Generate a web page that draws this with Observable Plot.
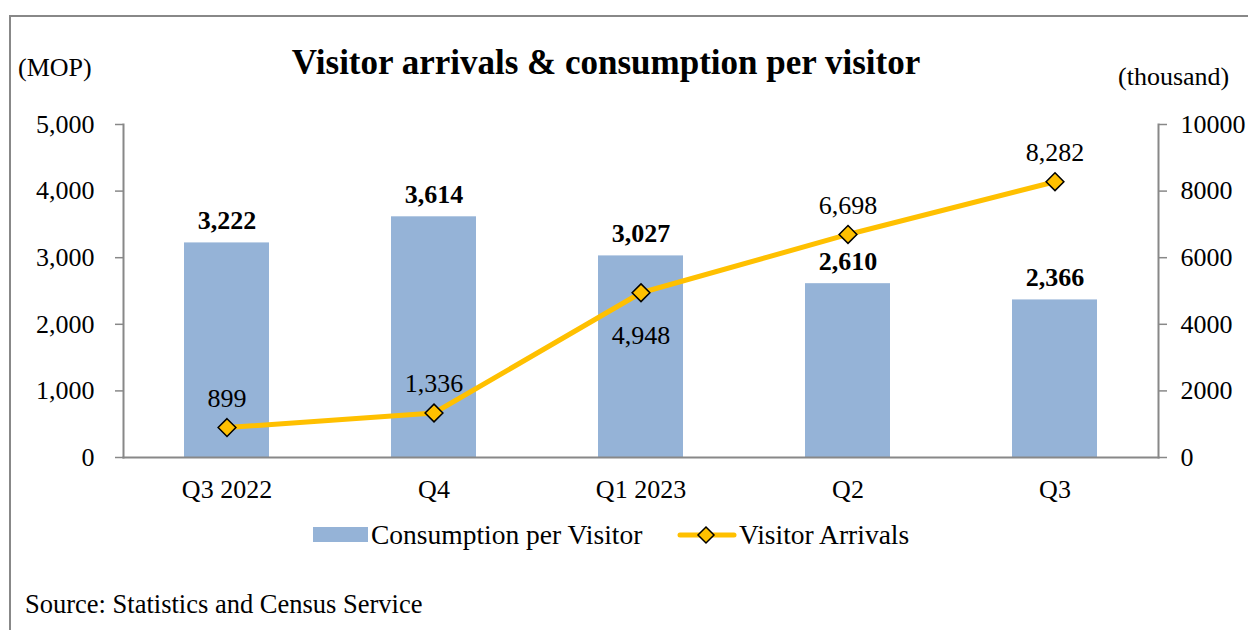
<!DOCTYPE html>
<html>
<head>
<meta charset="utf-8">
<script src="https://cdn.jsdelivr.net/npm/d3@7"></script>
<script src="https://cdn.jsdelivr.net/npm/@observablehq/plot@0.6"></script>
<style>
  html, body { margin: 0; padding: 0; background: #fff; overflow: hidden; }
  #wrap { position: relative; width: 1248px; height: 630px; font-family: "Liberation Serif", "Times New Roman", serif; color: #000; }
  #border { position: absolute; left: 9px; top: 15px; width: 1300px; height: 700px; border-left: 2px solid #888; border-top: 2px solid #888; }
  #chart { position: absolute; left: 0; top: 0; }
  .abs { position: absolute; white-space: nowrap; line-height: 1; }
</style>
</head>
<body>
<div id="wrap">
  <div id="border"></div>
  <div id="chart"></div>
  <div class="abs" style="left:0;width:1212px;top:45px;text-align:center;font-size:35px;font-weight:bold;">Visitor arrivals &amp; consumption per visitor</div>
  <div class="abs" style="left:18px;top:55px;font-size:26px;">(MOP)</div>
  <div class="abs" style="left:1118px;top:64px;font-size:26px;">(thousand)</div>
  <div class="abs" style="left:313px;top:521px;font-size:27.5px;display:flex;align-items:center;">
    <span style="display:inline-block;width:55px;height:15px;background:#95B3D7;margin-right:3px;"></span>
    <span>Consumption per Visitor</span>
  </div>
  <div class="abs" style="left:676px;top:521px;font-size:27.5px;display:flex;align-items:center;">
    <svg width="61" height="24" style="margin-right:2px;">
      <line x1="4" y1="12" x2="58" y2="12" stroke="#FFC000" stroke-width="5" stroke-linecap="round"/>
      <path d="M30,4 L38,12 L30,20 L22,12 Z" fill="#FFC000" stroke="#000" stroke-width="1.5"/>
    </svg>
    <span>Visitor Arrivals</span>
  </div>
  <div class="abs" style="left:25px;top:591px;font-size:26.5px;">Source: Statistics and Census Service</div>
</div>
<script>
const categories = ["Q3 2022", "Q4", "Q1 2023", "Q2", "Q3"];
const consumption = [3222, 3614, 3027, 2610, 2366];
const arrivals = [899, 1336, 4948, 6698, 8282];
const leftTicks = [0, 1000, 2000, 3000, 4000, 5000];
const rightTicks = [0, 2000, 4000, 6000, 8000, 10000];

const ratio = 10000 / 5000;
const data = categories.map((c, i) => ({cat: c, cons: consumption[i], arr: arrivals[i], arrScaled: arrivals[i] / ratio, i}));
const fmt = d3.format(",");
const font = "Liberation Serif";

const chart = Plot.plot({
  width: 1248,
  height: 630,
  marginTop: 124,
  marginBottom: 173,
  marginLeft: 123,
  marginRight: 90,
  style: {fontFamily: font, background: "transparent", color: "#000"},
  x: {domain: categories, paddingInner: 0.59, paddingOuter: 0.295},
  y: {domain: [0, 5000]},
  marks: [
    Plot.barY(data, {x: "cat", y: "cons", fill: "#95B3D7"}),
    Plot.axisY({ticks: leftTicks, tickFormat: fmt, tickSize: 8, tickPadding: 21, fontSize: 26, stroke: "#888", strokeWidth: 1.5, label: null, anchor: "left"}),
    Plot.axisY({ticks: rightTicks.map(t => t / ratio), tickFormat: d => String(d * ratio), tickSize: 8, tickPadding: 14, fontSize: 26, stroke: "#888", strokeWidth: 1.5, label: null, anchor: "right"}),
    Plot.axisX({tickSize: 0, tickPadding: 22, fontSize: 26, label: null}),
    Plot.frame({anchor: "left", stroke: "#888", strokeWidth: 2}),
    Plot.frame({anchor: "right", stroke: "#888", strokeWidth: 2}),
    Plot.frame({anchor: "bottom", stroke: "#888", strokeWidth: 2}),
    Plot.line(data, {x: "cat", y: "arrScaled", stroke: "#FFC000", strokeWidth: 5, strokeLinejoin: "round"}),
    Plot.dot(data, {x: "cat", y: "arrScaled", symbol: "diamond2", r: 8, fill: "#FFC000", stroke: "#000", strokeWidth: 1.5}),
    Plot.text(data, {x: "cat", y: "cons", text: d => fmt(d.cons), dy: -22, fontSize: 26, fontWeight: "bold", fill: "#000"}),
    Plot.text(data.filter(d => d.i !== 2), {x: "cat", y: "arrScaled", text: d => fmt(d.arr), dy: -29, fontSize: 26, fill: "#000"}),
    Plot.text(data.filter(d => d.i === 2), {x: "cat", y: "arrScaled", text: d => fmt(d.arr), dy: 43, fontSize: 26, fill: "#000"})
  ]
});
document.getElementById("chart").appendChild(chart);
</script>
</body>
</html>
